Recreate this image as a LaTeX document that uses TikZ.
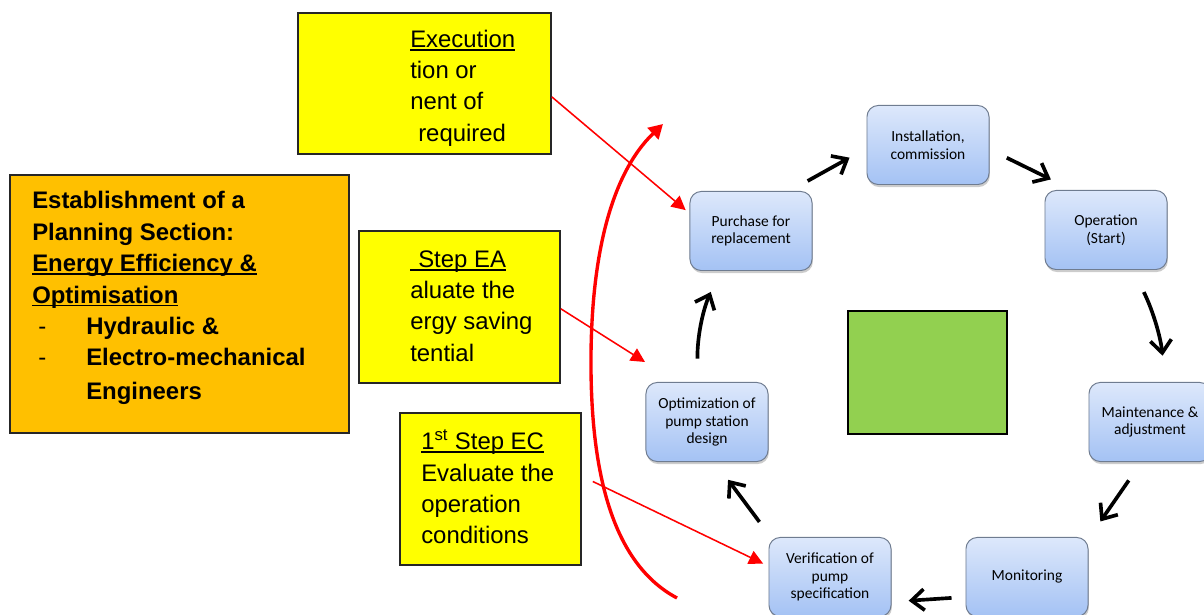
\documentclass[tikz,border=0pt]{standalone}
\usepackage{fontspec}
\setmainfont{Liberation Sans}
\newfontfamily\calibri{Carlito}
\usetikzlibrary{arrows.meta,shadows}
\definecolor{boxTop}{HTML}{DDE8FB}
\definecolor{boxBot}{HTML}{A4C2F4}
\definecolor{boxLine}{HTML}{6F7C90}
\definecolor{planOrange}{HTML}{FFC000}
\definecolor{noteYellow}{HTML}{FFFF00}
\definecolor{midGreen}{HTML}{92D050}
% thicker underline, as in the slide
\newcommand{\ulP}[1]{\setbox0\hbox{#1}\rlap{\rule[-2.4pt]{\wd0}{1.2pt}}\box0}
\begin{document}
\begin{tikzpicture}[x=0.025cm,y=-0.025cm,
    pumpBoxP/.style={draw=boxLine,line width=0.7pt,rounded corners=8pt,top color=boxTop,bottom color=boxBot,
        minimum width=3.05cm,minimum height=1.975cm,align=center,font=\calibri\fontsize{11}{12.5}\selectfont,
        drop shadow={shadow xshift=0.6pt,shadow yshift=-1.8pt,opacity=0.4}},
    pumpNoteP/.style={draw=black!85,line width=1.1pt,fill=noteYellow,inner sep=0pt},
    pumpTxtP/.style={anchor=west,inner sep=0pt,align=left,font=\fontsize{17}{22.3}\selectfont},
    pumpArrP/.style={line width=2.6pt,-{Straight Barb[length=9pt,width=15pt]}},
    pumpRedP/.style={red,line width=1.1pt,-{Triangle[length=10pt,width=10pt]}},
]
\useasboundingbox (0,0) rectangle (1204,615);
% notes on the left
\node[pumpNoteP,fill=planOrange,minimum width=8.475cm,minimum height=6.45cm] (plan) at (179.5,304) {};
\node[pumpTxtP,font=\bfseries\fontsize{17}{22.4}\selectfont] (planTxt) at (32,298) {Establishment of a\\Planning Section:\\\ulP{Energy Efficiency \&}\\\ulP{Optimisation}\\\makebox[1.35cm][l]{\hspace{0.15cm}\mdseries-}Hydraulic \&\\\makebox[1.35cm][l]{\hspace{0.15cm}\mdseries-}Electro-mechanical\\[1.6pt]\hspace*{1.35cm}Engineers};
\node[pumpNoteP,minimum width=6.325cm,minimum height=3.525cm] (exec) at (424.5,83.5) {};
\node[pumpTxtP] (execTxt) at (410,88) {\ulP{Execution}\\tion or\\nent of\\\hspace*{0.2cm}required};
\node[pumpNoteP,minimum width=5.025cm,minimum height=3.8cm] (ea) at (459.5,307) {};
\node[pumpTxtP] (eaTxt) at (410,306) {\ulP{\hspace*{0.2cm}Step EA}\\aluate the\\ergy saving\\tential};
\node[pumpNoteP,minimum width=4.525cm,minimum height=3.8cm] (ec) at (490.5,489) {};
\node[pumpTxtP] (ecTxt) at (421,487) {\ulP{1\textsuperscript{st} Step EC}\\Evaluate the\\operation\\conditions};
% green square in the middle
\node[draw=black,line width=1.1pt,fill=midGreen,minimum width=3.975cm,minimum height=3.075cm] (mid) at (927.5,372.5) {};
% the cycle
\node[pumpBoxP] (pur) at (751,231) {Purchase for\\replacement};
\node[pumpBoxP] (inst) at (928,145) {Installation,\\commission};
\node[pumpBoxP] (oper) at (1106,230) {Operation\\(Start)};
\node[pumpBoxP] (maint) at (1150,422) {Maintenance \&\\adjustment};
\node[pumpBoxP] (mon) at (1027,577) {Monitoring};
\node[pumpBoxP] (ver) at (830,577) {Verification of\\pump\\specification};
\node[pumpBoxP] (opt) at (707,422) {Optimization of\\pump station\\design};
\draw[pumpArrP,shorten <=0.515cm,shorten >=0.485cm] (pur.46) -- (inst.183);
\draw[pumpArrP,shorten <=0.48cm,shorten >=0.6cm] (inst.-4) -- (oper.130);
\draw[pumpArrP,shorten <=0.615cm,shorten >=0.66cm] (oper.-56) to[bend left=10] (maint.69);
\draw[pumpArrP,shorten <=0.56cm,shorten >=0.52cm] (maint.-102) -- (mon.32);
\draw[pumpArrP,shorten <=0.35cm,shorten >=0.43cm] (mon.198) -- (ver.-22);
\draw[pumpArrP,shorten <=0.47cm,shorten >=0.555cm] (ver.146) -- (opt.-79);
\draw[pumpArrP,shorten <=0.585cm,shorten >=0.57cm] (opt.103) to[bend left=12] (pur.-128);
% red pointers
\coordinate (eaTip) at (645,362);
\coordinate (loopEnd) at (677,598);
\coordinate (loopTip) at (663,124);
\draw[pumpRedP,shorten >=0.125cm] (exec.-6) -- (pur.164);
\draw[pumpRedP] (ea.-1) -- (eaTip);
\draw[pumpRedP,shorten <=0.305cm,shorten >=0.15cm] (ec.8) -- (ver.170);
\draw[red,line width=2.4pt,-{Triangle[length=10pt,width=11pt]}] (loopEnd) .. controls (615,565) and (592,480) .. (591,370) .. controls (590,260) and (610,175) .. (loopTip);
\end{tikzpicture}
\end{document}
